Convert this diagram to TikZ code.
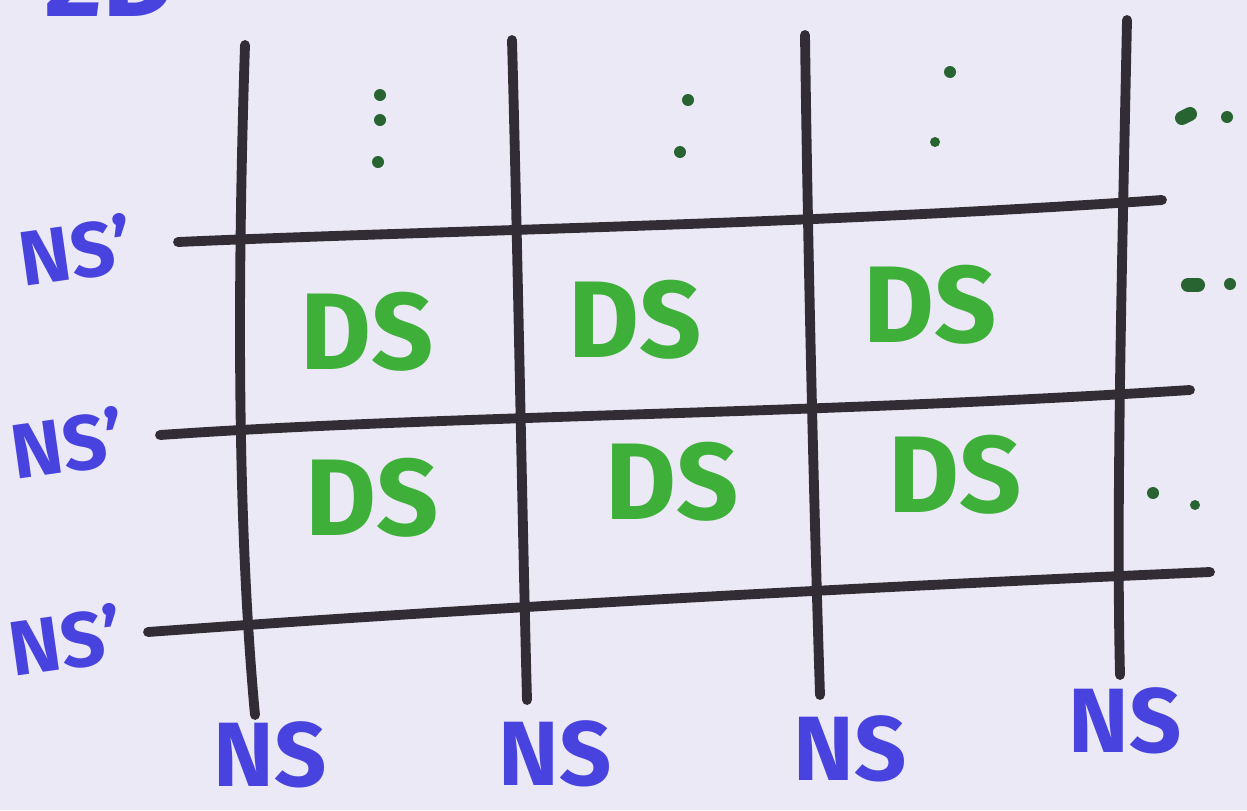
\documentclass[tikz,border=0pt]{standalone}
\usepackage{fontspec}
\setmainfont{Fira Sans}
\usetikzlibrary{positioning}
\definecolor{paper}{RGB}{236,233,246}
\definecolor{marker}{RGB}{50,45,52}
\definecolor{nsblue}{RGB}{72,66,222}
\definecolor{dsgreen}{RGB}{62,176,58}
\definecolor{dotgreen}{RGB}{40,100,50}

\begin{document}
\begin{tikzpicture}[
  font=\bfseries,
  gridline/.style={draw=marker,line width=2.8pt,line cap=round},
  nslabel/.style={text=nsblue,font=\bfseries\fontsize{26}{26}\selectfont,inner sep=0pt},
  rowlabel/.style={nslabel,font=\bfseries\fontsize{22}{22}\selectfont,rotate=8},
  dslabel/.style={text=dsgreen,font=\bfseries\fontsize{31}{31}\selectfont,inner sep=0pt},
  dotmark/.style={fill=dotgreen}
]
\useasboundingbox (0,0) rectangle (12.47,8.10);
\clip (0,0) rectangle (12.47,8.10);
\fill[paper] (0,0) rectangle (12.47,8.10);

% cut-off title at the top
\node[nslabel,font=\bfseries\fontsize{32}{32}\selectfont] (title) at (1.10,8.32) {2D};

% column lines (NS)
\coordinate (c1t) at (2.45,7.65); \coordinate (c1b) at (2.55,0.95);
\coordinate (c2t) at (5.12,7.70); \coordinate (c2b) at (5.27,1.10);
\coordinate (c3t) at (8.05,7.75); \coordinate (c3b) at (8.20,1.15);
\coordinate (c4t) at (11.27,7.90); \coordinate (c4b) at (11.20,1.35);
\draw[gridline] (c1t) .. controls (2.38,5.5) and (2.36,3.0) .. (c1b);
\draw[gridline] (c2t) .. controls (5.18,5.5) and (5.22,3.0) .. (c2b);
\draw[gridline] (c3t) .. controls (8.08,5.5) and (8.14,3.0) .. (c3b);
\draw[gridline] (c4t) .. controls (11.22,5.5) and (11.16,3.0) .. (c4b);

% row lines (NS')
\coordinate (r1l) at (1.78,5.68); \coordinate (r1r) at (11.62,6.10);
\coordinate (r2l) at (1.60,3.75); \coordinate (r2r) at (11.90,4.20);
\coordinate (r3l) at (1.48,1.78); \coordinate (r3r) at (12.10,2.38);
\draw[gridline] (r1l) .. controls (4.5,5.80) and (8.0,5.85) .. (r1r);
\draw[gridline] (r2l) .. controls (4.5,3.95) and (8.0,3.95) .. (r2r);
\draw[gridline] (r3l) .. controls (4.5,2.00) and (8.0,2.20) .. (r3r);

% row labels
\node[rowlabel,left=0.45cm of r1l] (ns1) {NS'};
\node[rowlabel,left=0.35cm of r2l] (ns2) {NS'};
\node[rowlabel,left=0.25cm of r3l] (ns3) {NS'};

% column labels
\node[nslabel,below=0.06cm of c1b,xshift=0.15cm] (nsa) {NS};
\node[nslabel,below=0.20cm of c2b,xshift=0.28cm] (nsb) {NS};
\node[nslabel,below=0.20cm of c3b,xshift=0.30cm] (nsc) {NS};
\node[nslabel,below=0.12cm of c4b,xshift=0.05cm] (nsd) {NS};

% cells
\node[dslabel] (ds11) at (3.67,4.78) {DS};
\node[dslabel] (ds12) at (6.35,4.90) {DS};
\node[dslabel] (ds13) at (9.30,5.05) {DS};
\node[dslabel] (ds21) at (3.72,3.12) {DS};
\node[dslabel] (ds22) at (6.72,3.28) {DS};
\node[dslabel] (ds23) at (9.55,3.35) {DS};

% continuation dots
\fill[dotmark] (3.80,7.15) circle (0.06) (3.80,6.90) circle (0.06) (3.78,6.48) circle (0.06);
\fill[dotmark] (6.88,7.10) circle (0.06) (6.80,6.58) circle (0.06);
\fill[dotmark] (9.50,7.38) circle (0.06) (9.35,6.68) circle (0.05);
\draw[dotgreen,line width=4pt,line cap=round] (11.82,6.92) -- (11.90,6.96);
\fill[dotmark] (12.27,6.93) circle (0.06);
\draw[dotgreen,line width=4pt,line cap=round] (11.88,5.25) -- (11.98,5.25);
\fill[dotmark] (12.30,5.26) circle (0.06);
\fill[dotmark] (11.53,3.17) circle (0.06) (11.95,3.05) circle (0.05);
\end{tikzpicture}
\end{document}
